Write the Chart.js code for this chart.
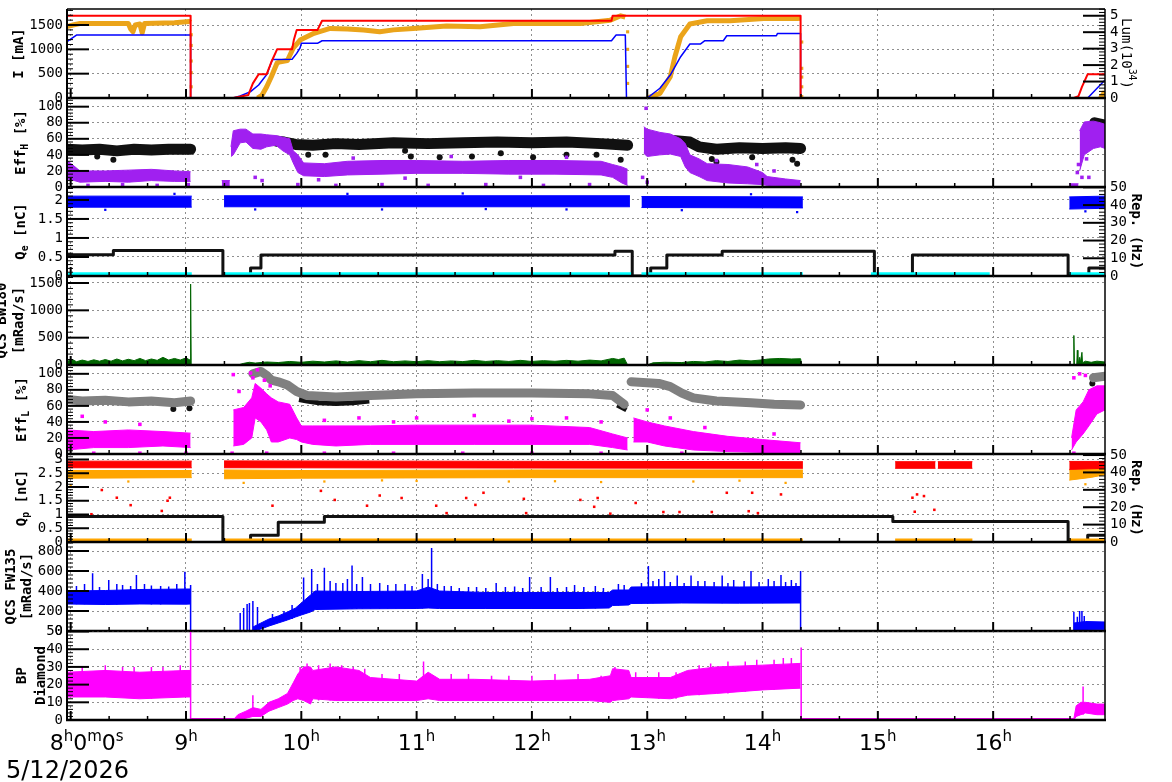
<!DOCTYPE html>
<html>
<head>
<meta charset="utf-8">
<title>Beam monitor</title>
<script src="https://cdn.jsdelivr.net/npm/chart.js@4.4.1/dist/chart.umd.min.js"></script>
<style>
  html, body { margin: 0; padding: 0; background: #fff; }
  #board { position: relative; width: 1172px; height: 782px; overflow: hidden; background: #fff; }
  #board canvas { position: absolute; left: 0; }
</style>
</head>
<body>
<div id="board"></div>
<script>
// time axis, hours of the day
const T0 = 7.968, T1 = 16.97;
const hourTicks = [8, 9, 10, 11, 12, 13, 14, 15, 16];
const dateLabel = '5/12/2026';

// ---- I [mA] / Lum ----
const lerCurrent = [[7.968,1690],[9.04,1690],[9.04,0],[9.41,0],[9.54,60],[9.58,300],[9.63,490],[9.70,490],[9.74,740],[9.79,1000],[9.92,1000],[9.935,1190],[9.96,1396],[10.14,1396],[10.18,1587],[12.69,1587],[12.70,1690],[14.33,1690],[14.33,0],[16.70,0],[16.74,40],[16.77,230],[16.82,490],[16.97,490]];
const herCurrent = [[7.968,1156],[8.05,1294],[9.04,1294],[9.04,0],[9.41,0],[9.47,40],[9.56,130],[9.63,267],[9.67,390],[9.70,480],[9.75,790],[9.92,795],[9.96,917],[9.99,1033],[10.0,1123],[10.14,1123],[10.18,1177],[12.69,1177],[12.73,1294],[12.81,1294],[12.82,0],[13.0,0],[13.11,200],[13.20,472],[13.29,848],[13.37,1109],[13.46,1109],[13.50,1177],[13.66,1177],[13.69,1280],[14.12,1280],[14.13,1328],[14.33,1328],[14.33,0],[16.82,0],[16.97,370]];
const lumi = [[7.968,1470],[8.02,1500],[8.08,1530],[8.50,1530],[8.52,1420],[8.54,1360],[8.56,1500],[8.60,1520],[8.62,1340],[8.64,1530],[8.90,1545],[9.03,1570],[9.04,1555],null,[9.62,0],[9.66,60],[9.70,232],[9.74,437],[9.79,720],[9.82,745],[9.88,770],[9.93,1027],[9.99,1190],[10.11,1330],[10.25,1430],[10.40,1420],[10.54,1396],[10.68,1360],[10.80,1400],[10.97,1430],[11.26,1478],[11.55,1465],[11.84,1533],[12.13,1533],[12.42,1533],[12.68,1600],[12.77,1690],[12.81,1660],null,[13.0,0],[13.11,96],[13.20,437],[13.24,848],[13.29,1260],[13.37,1520],[13.52,1587],[13.72,1587],[14.01,1636],[14.30,1636],[14.33,1640],null,[16.93,0],[16.97,130]];
const lumiDrops = [[9.045,1300],[9.045,1080],[9.045,760],[9.045,520],[9.045,230],[12.83,1360],[12.83,1000],[12.83,650],[12.83,300],[14.34,1150],[14.34,610],[14.34,430],[14.34,230],[14.34,30]];

// ---- Eff_H [%] ----
const effHBlack = [[7.968,47],[8.1,46],[8.25,47],[8.4,45],[8.55,47],[8.7,46],[8.85,47],[9.04,47],null,[9.79,57],[9.85,56],[9.95,53],[10.1,52],[10.3,54],[10.5,53],[10.8,55],[11.1,54],[11.4,55],[11.7,56],[12.0,55],[12.3,56],[12.6,54],[12.83,52],null,[13.22,58],[13.37,56],[13.45,50],[13.6,47],[13.8,49],[14.0,48],[14.2,49],[14.33,48],null,[16.88,80],[16.97,77]];
const effHBlackOut = [[8.23,38],[8.37,34],[10.06,40],[10.21,40],[10.90,45],[10.95,38],[11.20,37],[11.48,38],[11.73,42],[12.01,37],[12.30,40],[12.56,40],[12.77,34],[13.56,35],[13.60,31],[13.91,37],[14.26,34],[14.30,29]];
const effHPurple = [[7.968,10,33],[8.03,8,26],[8.08,6,20],[8.3,7,20],[8.5,6,21],[8.7,8,22],[8.9,7,20],[9.04,7,19],null,
  [9.31,0,8],[9.38,0,8],null,
  [9.39,38,50],[9.41,40,70],[9.47,55,72],[9.52,56,72],[9.58,48,66],[9.65,47,66],[9.70,50,65],[9.78,52,64],[9.84,45,62],[9.90,40,60],[9.93,30,45],[9.97,18,40],[10.02,14,30],[10.2,13,29],[10.4,15,32],[10.7,16,33],[11.0,17,33],[11.4,17,32],[11.8,16,33],[12.2,16,33],[12.6,15,32],[12.7,12,28],[12.78,5,25],[12.83,2,22],null,
  [12.97,42,75],[13.0,38,72],[13.11,40,68],[13.2,41,66],[13.29,38,60],[13.33,25,54],[13.37,18,40],[13.45,13,35],[13.52,8,29],[13.7,5,28],[13.87,4,25],[14.0,3,18],[14.04,2,13],[14.2,1,10],[14.33,1,8],null,
  [16.66,0,4],[16.74,0,4],null,
  [16.75,20,70],[16.79,40,81],[16.87,48,82],[16.93,50,80],[16.97,48,78]];
const effHPurpleOut = [[8.15,2],[8.45,3],[8.75,2],[9.02,3],[9.97,3],[10.3,2],[10.7,3],[11.1,2],[11.6,3],[12.1,2],[12.5,3],[12.99,98],[12.96,12],[13.0,6],[9.60,12],[9.66,8],[16.73,18],[16.74,28],[16.77,12],[16.81,35],[16.83,12],
  [10.15,9],[10.45,36],[10.9,11],[11.3,38],[11.9,12],[12.3,37],[13.6,33],[13.95,28],[14.1,20]];

// ---- Q_e [nC] / Rep ----
const qeBlue = [[7.968,1.81,2.10],[9.05,1.81,2.10],null,[9.33,1.82,2.11],[12.85,1.82,2.11],null,[12.95,1.80,2.09],[14.35,1.79,2.08],null,[16.66,1.76,2.08],[16.97,1.78,2.10]];
const qeBlueOut = [[8.3,1.74],[8.9,2.16],[9.6,1.75],[10.4,2.16],[10.7,1.75],[11.4,2.17],[11.6,1.76],[12.3,1.75],[13.3,1.73],[13.9,2.15],[14.3,1.68],[16.8,1.7]];
const qeStep = [[7.968,0.56],[8.37,0.67],[9.32,0],[9.56,0.21],[9.65,0.55],[12.72,0.65],[12.87,0],[13.03,0.21],[13.17,0.55],[13.65,0.65],[14.97,0],[15.30,0.55],[16.65,0],[16.83,0.21],[16.97,0.21]];
const qeCyan = [[7.968,0.06],[9.05,0.06],null,[9.33,0.06],[12.86,0.06],null,[12.95,0.06],[14.35,0.06],null,[14.94,0.06],[15.97,0.06],null,[16.66,0.06],[16.97,0.06]];

// ---- QCS BW180 [mRad/s] ----
const bw180 = [[7.968,70],[8.02,95],[8.05,60],[8.1,90],[8.15,65],[8.2,95],[8.25,70],[8.3,100],[8.35,70],[8.4,110],[8.45,75],[8.5,105],[8.55,80],[8.6,120],[8.65,80],[8.7,110],[8.75,85],[8.8,140],[8.85,90],[8.9,120],[8.95,90],[9.0,130],[9.035,90],[9.04,1480],[9.045,0],[9.45,0],[9.5,30],[9.55,50],[9.6,35],[9.7,55],[9.8,45],[9.9,65],[10.0,50],[10.1,70],[10.2,55],[10.3,75],[10.4,55],[10.5,80],[10.6,60],[10.7,85],[10.8,60],[10.9,75],[11.0,60],[11.1,80],[11.2,60],[11.3,75],[11.4,62],[11.5,85],[11.6,65],[11.7,80],[11.8,65],[11.9,85],[12.0,65],[12.1,80],[12.2,68],[12.3,85],[12.4,70],[12.5,90],[12.6,75],[12.7,120],[12.75,100],[12.8,125],[12.83,0],[13.0,0],[13.05,40],[13.15,50],[13.3,45],[13.4,65],[13.5,55],[13.6,80],[13.7,65],[13.8,90],[13.9,75],[14.0,95],[14.05,110],[14.15,120],[14.25,110],[14.33,115],[14.34,0],[16.695,0],[16.70,540],[16.705,0],[16.725,0],[16.73,270],[16.735,0],[16.75,140],[16.755,30],[16.77,232],[16.775,40],[16.8,70],[16.85,50],[16.9,70],[16.97,55]];

// ---- Eff_L [%] ----
const effLGrey = [[7.968,68],[8.1,66],[8.3,67],[8.5,65],[8.7,66],[8.9,64],[9.04,66],null,[9.58,100],[9.65,103],[9.70,98],[9.74,92],[9.80,90],[9.88,86],[9.96,78],[10.05,73],[10.3,71],[10.6,73],[11.0,75],[11.5,76],[12.0,76],[12.5,75],[12.70,73],[12.80,62],null,[12.86,90],[13.1,88],[13.2,84],[13.3,76],[13.4,70],[13.6,66],[13.9,64],[14.1,62],[14.33,61],null,[16.87,95],[16.97,97]];
const effLBlack = [[9.98,68],[10.05,66],[10.15,64],[10.3,63],[10.45,64],[10.59,66],null,[12.74,61],[12.82,55]];
const effLBlackOut = [[8.89,56],[9.03,57],[16.86,88]];
const effLMagenta = [[7.968,5,30],[8.2,8,28],[8.5,8,30],[8.8,10,28],[9.04,8,26],null,
  [9.41,10,55],[9.50,12,58],[9.57,20,70],[9.60,45,88],[9.65,40,82],[9.70,30,75],[9.74,15,70],[9.80,15,65],[9.90,20,62],[9.96,18,45],[10.0,15,35],[10.1,12,35],[10.3,10,35],[10.6,12,35],[11.0,12,36],[11.5,12,36],[12.0,12,36],[12.5,12,33],[12.70,8,25],[12.83,5,20],null,
  [12.88,15,45],[13.0,15,40],[13.15,10,35],[13.4,5,28],[13.7,3,22],[14.0,2,18],[14.33,2,14],null,
  [16.68,5,20],[16.72,15,55],[16.78,25,65],[16.83,35,80],[16.9,50,85],[16.97,55,85]];
const effLMagentaOut = [[9.41,99],[9.46,78],[9.56,101],[9.58,95],[9.62,105],[9.68,92],[9.73,85],[9.9,55],[10.5,45],[11.0,45],[11.5,48],[12.0,44],[12.3,45],[13.0,55],[13.2,45],[8.3,40],[8.6,37],[8.1,47],[16.7,95],[16.75,100],[16.80,98],
  [8.2,1],[8.6,1],[9.0,1],[9.4,1],[9.7,1],[10.2,1],[10.8,1],[11.4,1],[12.0,1],[12.6,1],[13.3,1],[14.0,1],[16.7,1],
  [10.2,42],[10.8,40],[11.8,41],[12.6,40],[13.5,33],[14.1,25]];

// ---- Q_p [nC] / Rep ----
const qpRed = [[7.968,2.70,2.94],[9.05,2.70,2.94],null,[9.33,2.70,2.95],[14.35,2.68,2.92],null,[15.15,2.68,2.92],[15.50,2.68,2.92],null,[15.52,2.68,2.92],[15.82,2.68,2.92],null,[16.66,2.64,2.93],[16.97,2.68,2.93]];
const qpOrange = [[7.968,2.32,2.60],[9.05,2.34,2.60],null,[9.33,2.30,2.62],[10.0,2.32,2.60],[12.0,2.34,2.62],[14.35,2.34,2.62],null,[16.66,2.25,2.62],[16.85,2.35,2.68],[16.97,2.45,2.70]];
const qpOrangeOut = [[8.5,2.2],[9.5,2.15],[10.2,2.2],[11.0,2.22],[11.8,2.2],[12.6,2.18],[13.4,2.2],[14.2,2.15],[16.8,2.1],[8.0,2.05],[10.7,2.24],[12.2,2.21],[13.8,2.23]];
const qpOrangeLow = [[7.968,0.07],[9.05,0.07],null,[9.33,0.07],[14.35,0.07],null,[15.15,0.07],[15.82,0.07],null,[16.66,0.07],[16.97,0.07]];
const qpStep = [[7.968,0.93],[9.32,0],[9.56,0.25],[9.80,0.72],[10.20,0.93],[15.13,0.75],[16.65,0],[16.82,0.25],[16.97,0.25]];
const qpRedOut = [[8.18,1.01],[8.27,1.89],[8.40,1.61],[8.52,1.34],[8.79,1.13],[8.84,1.50],[8.86,1.61],[9.75,1.32],[10.17,1.86],[10.29,1.53],[10.57,1.32],[10.68,1.69],[10.87,1.60],[11.17,1.32],[11.26,1.05],[11.43,1.60],[11.51,1.35],[11.58,1.79],[11.93,1.57],[11.95,1.05],[12.42,1.53],[12.54,1.28],[12.57,1.60],[12.68,1.03],[12.90,1.42],[13.14,1.09],[13.28,1.09],[13.56,1.09],[13.69,1.79],[13.88,1.12],[13.91,1.79],[13.96,1.05],[14.16,1.73],[15.30,1.61],[15.32,1.10],[15.34,1.73],[15.40,1.67],[15.49,1.17]];

// ---- QCS FW135 [mRad/s] ----
const fw135 = [[7.968,270,400],[8.3,265,405],[8.6,270,415],[9.0,268,420],[9.04,270,420],null,[9.58,0,40],[9.65,20,80],[9.72,50,120],[9.80,80,150],[9.88,110,190],[9.95,140,230],[10.0,160,280],[10.08,190,360],[10.12,215,400],[10.5,222,395],[11.0,225,400],[11.1,230,440],[11.2,225,400],[11.6,225,385],[12.0,225,385],[12.4,225,385],[12.67,230,385],[12.70,255,410],[12.84,260,410],[12.86,275,440],[13.3,280,445],[13.8,278,440],[14.33,280,445],null,[16.70,10,80],[16.8,10,95],[16.97,12,90]];
const fw135Spikes = [[8.05,268,450],[8.12,268,470],[8.19,270,577],[8.25,270,440],[8.33,265,510],[8.4,265,470],[8.45,270,460],[8.52,270,450],[8.57,270,560],[8.64,270,470],[8.7,265,455],[8.78,265,450],[8.85,270,445],[8.92,270,470],[8.99,270,593],[9.04,0,460],
  [9.47,0,180],[9.50,0,230],[9.53,0,270],[9.55,0,280],[9.58,0,300],[9.62,20,240],[9.75,60,170],[9.85,100,200],[9.92,120,260],
  [10.02,170,536],[10.09,195,619],[10.14,215,470],[10.20,220,633],[10.25,222,500],[10.3,225,480],[10.36,222,480],[10.4,222,520],[10.44,222,655],[10.48,222,470],[10.53,225,540],[10.6,225,470],[10.68,225,480],[10.75,225,460],[10.82,225,470],[10.9,225,470],[10.96,225,450],[11.05,225,570],[11.1,230,520],[11.13,230,830],[11.18,225,470],[11.24,225,450],[11.3,225,450],[11.37,225,430],[11.45,225,440],[11.52,225,440],[11.6,225,430],[11.69,225,480],[11.77,225,440],[11.85,225,445],[11.92,225,430],[11.98,225,540],[12.08,225,440],[12.16,225,540],[12.22,225,430],[12.3,225,440],[12.37,225,460],[12.45,225,440],[12.55,225,450],[12.62,230,430],[12.75,255,470],[12.8,260,460],
  [12.95,275,480],[13.01,278,650],[13.05,278,500],[13.1,280,520],[13.15,280,600],[13.2,280,490],[13.26,280,555],[13.32,280,480],[13.38,280,555],[13.44,280,500],[13.5,280,500],[13.58,280,490],[13.65,278,555],[13.7,280,480],[13.75,280,510],[13.84,280,500],[13.90,280,600],[13.97,280,490],[14.05,280,520],[14.1,280,500],[14.16,280,560],[14.2,280,490],[14.25,280,510],[14.29,280,480],[14.33,0,600],
  [16.70,0,193],[16.73,0,143],[16.75,0,200],[16.77,0,200],[16.79,0,150]];
const fw135Zero = [[9.04,3],[9.58,3],null,[14.33,3],[16.70,3]];

// ---- BP Diamond ----
const bpDiamond = [[7.968,13,27],[8.3,13,28],[8.6,12,27],[9.0,13,28],[9.035,13,28],null,[9.045,0,0.8],[9.42,0,0.8],[9.45,0,3],[9.52,1,5],[9.58,2,7],[9.65,2,6],[9.72,5,10],[9.80,7,12],[9.88,9,15],[9.93,11,21],[9.97,12,26],[10.02,11,30],[10.08,9,30],[10.10,12,28],[10.3,11,30],[10.5,11,28],[10.6,11,24],[11.0,11,22],[11.1,12,27],[11.2,11,23],[11.5,11,23],[12.0,11,22],[12.5,11,23],[12.68,10,25],[12.70,11,29],[12.84,12,28],[12.86,13,24],[13.2,12,24],[13.35,14,28],[13.6,15,30],[14.0,17,31],[14.33,18,32],null,[14.34,0,0.8],[16.70,0,0.8],[16.72,2,8],[16.76,3,10],[16.80,4,10],[16.9,3,9],[16.97,3,9]];
const bpSpikes = [[8.1,13,30],[8.3,13,31],[8.45,13,30],[8.55,12,30],[8.7,12,30],[8.8,13,30],[8.95,13,31],[9.04,0,50],[9.58,2,14],[9.99,12,30],[10.05,11,32],[10.15,11,31],[10.25,11,32],[10.35,11,31],[10.45,11,30],[10.55,11,29],[10.7,11,26],[10.85,11,26],[11.06,12,33],[11.3,11,26],[11.45,11,26],[11.65,11,25],[11.8,11,25],[12.0,11,25],[12.2,11,26],[12.4,11,26],[12.6,11,25],[12.72,11,30],[12.9,13,27],[13.1,12,27],[13.25,12,27],[13.45,14,31],[13.55,15,32],[13.7,15,33],[13.85,16,33],[13.95,17,34],[14.1,17,34],[14.18,18,35],[14.25,18,35],[14.335,0,41],[16.78,3,19]];

const RED = '#ff0000', BLUE = '#0000ff', LUMI = '#eba41a', ORANGE = '#ffa500',
      PURPLE = '#a020f0', MAGENTA = '#ff00ff', GREY = '#808080', GREEN = '#006400',
      CYAN = '#00ffff', BLACK = '#111111', GRID = '#8f8f8f';
const MONO = '"DejaVu Sans Mono", monospace';
const SANS = '"DejaVu Sans", sans-serif';

const panels = [
  { y: {max: 1829, major: 500, minor: 100}, y1: {max: 5.41, major: 1, minor: 0.2},
    title: {x: [19], lines: [[['I [mA]']]]},
    rtitle: {x: 1126, parts: [['Lum(10'], ['34', 'sup'], [')']], bold: false},
    series: [
      {kind: 'line', data: lumi, color: LUMI, w: 5},
      {kind: 'pts', data: lumiDrops, color: LUMI, r: 2.2},
      {kind: 'line', data: herCurrent, color: BLUE, w: 1.5},
      {kind: 'line', data: lerCurrent, color: RED, w: 2}
    ] },
  { y: {max: 110.8, major: 20, minor: 4},
    title: {x: [21], lines: [[['Eff'], ['H', 'sub'], [' [%]']]]},
    series: [
      {kind: 'line', data: effHBlack, color: BLACK, w: 11, cap: 'round'},
      {kind: 'pts', data: effHBlackOut, color: BLACK, r: 3, shape: 'circle'},
      {kind: 'band', data: effHPurple, color: PURPLE},
      {kind: 'pts', data: effHPurpleOut, color: PURPLE, r: 2.5}
    ] },
  { y: {max: 2.34, major: 0.5, minor: 0.1}, y1: {max: 50.2, major: 10, minor: 2},
    title: {x: [21], lines: [[['Q'], ['e', 'sub'], [' [nC]']]]},
    rtitle: {x: 1136, parts: [['Rep. (Hz)']], bold: true},
    series: [
      {kind: 'band', data: qeBlue, color: BLUE},
      {kind: 'pts', data: qeBlueOut, color: BLUE, r: 1.6},
      {kind: 'line', data: qeStep, color: BLACK, w: 3, step: true},
      {kind: 'line', data: qeCyan, color: CYAN, w: 3}
    ] },
  { y: {max: 1628, major: 500, minor: 100},
    title: {x: [2, 19], lines: [[['QCS BW180']], [['[mRad/s]']]]},
    series: [
      {kind: 'area', data: bw180, color: GREEN, w: 1}
    ] },
  { y: {max: 111, major: 20, minor: 4},
    title: {x: [22], lines: [[['Eff'], ['L', 'sub'], [' [%]']]]},
    series: [
      {kind: 'line', data: effLBlack, color: BLACK, w: 5},
      {kind: 'pts', data: effLBlackOut, color: BLACK, r: 3, shape: 'circle'},
      {kind: 'line', data: effLGrey, color: GREY, w: 9, cap: 'round'},
      {kind: 'band', data: effLMagenta, color: MAGENTA},
      {kind: 'pts', data: effLMagentaOut, color: MAGENTA, r: 2.5}
    ] },
  { y: {max: 3.2, major: 0.5, minor: 0.1}, y1: {max: 50.6, major: 10, minor: 2},
    title: {x: [22], lines: [[['Q'], ['p', 'sub'], [' [nC]']]]},
    rtitle: {x: 1136, parts: [['Rep. (Hz)']], bold: true},
    series: [
      {kind: 'band', data: qpOrange, color: ORANGE},
      {kind: 'pts', data: qpOrangeOut, color: ORANGE, r: 1.6},
      {kind: 'band', data: qpRed, color: RED},
      {kind: 'pts', data: qpRedOut, color: RED, r: 1.8},
      {kind: 'line', data: qpStep, color: BLACK, w: 3, step: true},
      {kind: 'line', data: qpOrangeLow, color: ORANGE, w: 3}
    ] },
  { y: {max: 890, major: 200, minor: 40},
    title: {x: [11, 27.5], lines: [[['QCS FW135']], [['[mRad/s]']]]},
    series: [
      {kind: 'line', data: fw135Zero, color: BLUE, w: 1.5},
      {kind: 'band', data: fw135, color: BLUE},
      {kind: 'spikes', data: fw135Spikes, color: BLUE, w: 1.5}
    ] },
  { y: {max: 50.3, major: 10, minor: 2},
    title: {x: [22, 41], lines: [[['BP']], [['Diamond']]]},
    series: [
      {kind: 'band', data: bpDiamond, color: MAGENTA},
      {kind: 'spikes', data: bpSpikes, color: MAGENTA, w: 1.5}
    ] }
];
const tops = [9, 98, 187, 276, 365, 454, 542, 631, 720];

function xy(arr) {
  const out = [];
  let last = T0;
  arr.forEach(p => {
    if (p === null) out.push({x: last, y: null});
    else { out.push({x: p[0], y: p[1]}); last = p[0]; }
  });
  return out;
}
function col(arr, k) {
  return arr.map((p, i) => p === null ? {x: arr[i - 1][0], y: null} : {x: p[0], y: p[k]});
}

function build(series) {
  const ds = [];
  const base = {pointRadius: 0, fill: false, spanGaps: false, tension: 0, yAxisID: 'y'};
  series.forEach(s => {
    if (s.kind === 'line') {
      ds.push({...base, data: xy(s.data), borderColor: s.color, borderWidth: s.w,
        stepped: s.step || false, borderCapStyle: s.cap || 'butt', borderJoinStyle: 'round'});
    } else if (s.kind === 'band') {
      const lo = ds.length;
      ds.push({...base, data: col(s.data, 1), borderColor: s.color, borderWidth: 1});
      ds.push({...base, data: col(s.data, 2), borderColor: s.color, borderWidth: 1,
        fill: {target: lo}, backgroundColor: s.color});
    } else if (s.kind === 'area') {
      ds.push({...base, data: xy(s.data), borderColor: s.color, borderWidth: s.w,
        fill: 'origin', backgroundColor: s.color});
    } else if (s.kind === 'spikes') {
      const d = [];
      s.data.forEach(p => { d.push({x: p[0], y: p[1]}, {x: p[0], y: p[2]}, {x: p[0], y: null}); });
      ds.push({...base, data: d, borderColor: s.color, borderWidth: s.w});
    } else if (s.kind === 'pts') {
      ds.push({...base, data: xy(s.data), showLine: false, pointRadius: s.r,
        pointStyle: s.shape || 'rect', pointBackgroundColor: s.color,
        pointBorderColor: s.color, pointBorderWidth: 0, borderColor: s.color});
    }
  });
  ds.forEach((d, i) => { d.order = -i; });
  return ds;
}

function rich(ctx, parts, x, y, size, bold) {
  const fontOf = p => (bold ? 'bold ' : '') + (p[1] ? size * 0.7 : size) + 'px ' + MONO;
  let total = 0;
  const w = parts.map(p => { ctx.font = fontOf(p); const m = ctx.measureText(p[0]).width; total += m; return m; });
  let cx = x - total / 2;
  parts.forEach((p, i) => {
    ctx.font = fontOf(p);
    const dy = p[1] === 'sub' ? size * 0.3 : p[1] === 'sup' ? -size * 0.4 : 0;
    ctx.fillText(p[0], cx, y + dy);
    cx += w[i];
  });
}

function richSans(ctx, parts, x, y, size) {
  const fontOf = p => (p[1] ? Math.round(size * 0.68) : size) + 'px ' + SANS;
  let total = 0;
  const w = parts.map(p => { ctx.font = fontOf(p); const m = ctx.measureText(p[0]).width; total += m; return m; });
  let cx = x - total / 2;
  parts.forEach((p, i) => {
    ctx.font = fontOf(p);
    ctx.fillText(p[0], cx, y + (p[1] ? -size * 0.42 : 0));
    cx += w[i];
  });
}

function deco(p, bottom) {
  return {
    id: 'deco',
    afterDatasetsDraw(chart) {
      const {ctx, chartArea: a, scales} = chart;
      const seg = (x1, y1, x2, y2, w) => {
        ctx.lineWidth = w; ctx.beginPath(); ctx.moveTo(x1, y1); ctx.lineTo(x2, y2); ctx.stroke();
      };
      ctx.save();
      ctx.strokeStyle = '#000';
      ctx.fillStyle = '#000';
      // frame
      seg(a.left, a.top, a.right, a.top, 1.5);
      seg(a.right, a.top, a.right, a.bottom, 1.5);
      seg(a.left, a.top, a.left, a.bottom, 2);
      seg(a.left - 1, a.bottom, a.right + 1, a.bottom, 2.5);
      // time ticks: hours and 20 min
      for (let k = 0; k < 28; k++) {
        const t = 8 + k / 3;
        if (t > T1) break;
        const X = scales.x.getPixelForValue(t);
        const major = k % 3 === 0;
        seg(X, a.bottom, X, a.bottom - (major ? 9 : 4), major ? 2 : 1.5);
      }
      const yTicks = (sc, spec, x0, dir) => {
        const n = Math.floor(spec.max / spec.minor + 1e-6);
        for (let k = 0; k <= n; k++) {
          const v = k * spec.minor;
          const r = v / spec.major;
          const major = Math.abs(r - Math.round(r)) < 1e-6;
          const Y = sc.getPixelForValue(v);
          seg(x0, Y, x0 + dir * (major ? 22 : 6), Y, major ? 2 : 1);
        }
      };
      yTicks(scales.y, p.y, a.left, 1);
      if (p.y1) yTicks(scales.y1, p.y1, a.right, -1);

      // left titles
      const cy = (a.top + a.bottom) / 2;
      ctx.textBaseline = 'middle';
      p.title.lines.forEach((line, i) => {
        ctx.save();
        ctx.translate(p.title.x[i], cy);
        ctx.rotate(-Math.PI / 2);
        rich(ctx, line, 0, 0, 14, true);
        ctx.restore();
      });
      if (p.rtitle) {
        ctx.save();
        ctx.translate(p.rtitle.x, cy);
        ctx.rotate(Math.PI / 2);
        rich(ctx, p.rtitle.parts, 0, 0, 14, p.rtitle.bold);
        ctx.restore();
      }
      if (bottom) {
        ctx.textBaseline = 'alphabetic';
        hourTicks.forEach(h => {
          const X = scales.x.getPixelForValue(h);
          if (h === hourTicks[0]) {
            richSans(ctx, [[String(h)], ['h', 'sup'], ['0'], ['m', 'sup'], ['0'], ['s', 'sup']], X + 16, a.bottom + 30, 22);
          } else {
            richSans(ctx, [[String(h)], ['h', 'sup']], X, a.bottom + 30, 22);
          }
        });
        ctx.font = '24px ' + SANS;
        ctx.textAlign = 'left';
        ctx.fillText(dateLabel, 6, a.bottom + 58);
      }
      ctx.restore();
    }
  };
}

function axis(spec, pos) {
  return {
    type: 'linear', position: pos, min: 0, max: spec.max,
    afterBuildTicks: s => {
      const t = [];
      const n = Math.floor(spec.max / spec.major + 1e-6);
      for (let k = 0; k <= n; k++) t.push({value: +(k * spec.major).toFixed(3)});
      s.ticks = t;
    },
    afterFit: s => { s.width = 67; },
    ticks: {autoSkip: false, padding: pos === 'left' ? 4 : 5, color: '#000',
      font: {family: MONO, size: 14}, callback: v => String(v)},
    grid: pos === 'left' ? {color: GRID, lineWidth: 1, drawTicks: false} : {display: false, drawTicks: false},
    border: {display: false, dash: [2, 3]}
  };
}

const board = document.getElementById('board');
const PAD = 14;
panels.forEach((p, i) => {
  const top = tops[i], h = tops[i + 1] - top;
  const last = i === panels.length - 1;
  const padBottom = last ? 782 - tops[i + 1] : PAD;
  const cv = document.createElement('canvas');
  cv.width = 1172;
  cv.height = h + PAD + padBottom;
  cv.style.top = (top - PAD) + 'px';
  cv.style.width = '1172px';
  cv.style.height = cv.height + 'px';
  board.appendChild(cv);
  const scales = {
    x: {type: 'linear', min: T0, max: T1,
      afterBuildTicks: s => { s.ticks = hourTicks.map(v => ({value: v})); },
      afterFit: s => { s.height = 0; },
      ticks: {display: false},
      grid: {color: GRID, lineWidth: 1, drawTicks: false},
      border: {display: false, dash: [2, 3]}},
    y: axis(p.y, 'left')
  };
  if (p.y1) scales.y1 = axis(p.y1, 'right');
  new Chart(cv, {
    type: 'line',
    data: {datasets: build(p.series)},
    options: {
      responsive: false, animation: false, devicePixelRatio: 1, events: [],
      layout: {padding: {top: PAD, bottom: padBottom, left: 0, right: p.y1 ? 0 : 67}},
      plugins: {legend: {display: false}, tooltip: {enabled: false}},
      scales
    },
    plugins: [deco(p, last)]
  });
});
</script>
</body>
</html>
